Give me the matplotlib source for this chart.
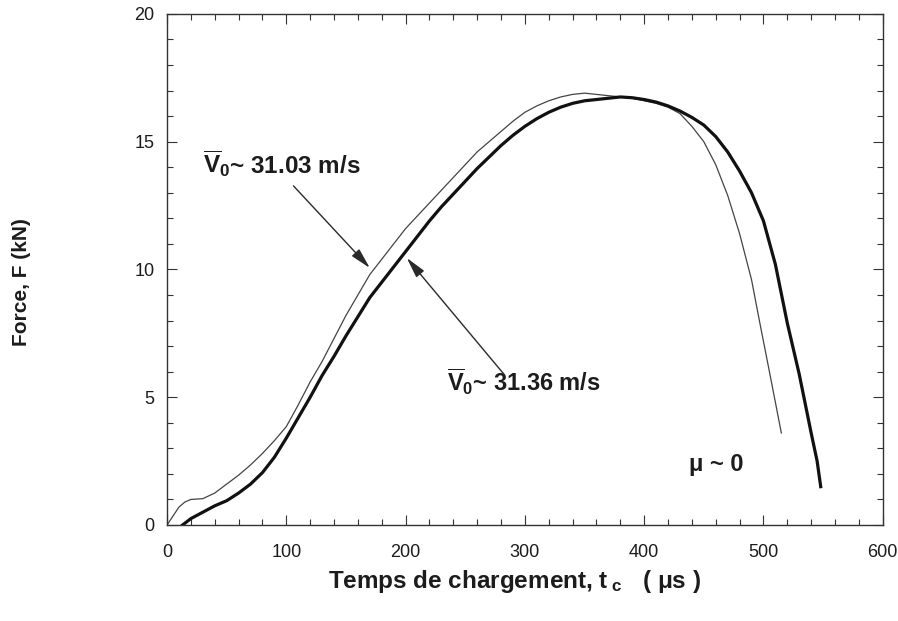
"""Force vs temps de chargement — deux essais (V0 ~ 31.03 et 31.36 m/s), mu ~ 0."""
import matplotlib

matplotlib.use("Agg")
matplotlib.rcParams.update({"font.family": ["Liberation Sans", "DejaVu Sans"],
                            "mathtext.fontset": "custom",
                            "mathtext.rm": "Liberation Sans",
                            "mathtext.it": "Liberation Sans:italic",
                            "mathtext.bf": "Liberation Sans:bold"})
import matplotlib.pyplot as plt
from matplotlib.ticker import MultipleLocator

# essai V0 ~ 31.03 m/s (trait fin)
t_fin = [0, 5, 10, 15, 20, 30, 40, 50, 60, 70, 80, 90, 100, 110, 120, 130,
         140, 150, 160, 170, 180, 190, 200, 210, 220, 230, 240, 250, 260,
         270, 280, 290, 300, 310, 320, 330, 340, 350, 360, 370, 380, 390,
         400, 410, 420, 430, 440, 450, 460, 470, 480, 490, 497, 505, 510, 515]
f_fin = [0.0, 0.35, 0.7, 0.9, 1.0, 1.03, 1.25, 1.6, 1.95, 2.35, 2.8, 3.3,
         3.85, 4.7, 5.6, 6.4, 7.3, 8.2, 9.0, 9.8, 10.4, 11.0, 11.6, 12.1,
         12.6, 13.1, 13.6, 14.1, 14.6, 15.0, 15.4, 15.8, 16.15, 16.4, 16.6,
         16.75, 16.85, 16.9, 16.85, 16.8, 16.75, 16.7, 16.6, 16.5, 16.35,
         16.1, 15.6, 15.0, 14.1, 12.9, 11.4, 9.6, 7.9, 6.0, 4.8, 3.6]

# essai V0 ~ 31.36 m/s (trait épais)
t_epais = [13, 20, 30, 40, 50, 60, 70, 80, 90, 100, 110, 120, 130, 140, 150,
           160, 170, 180, 190, 200, 210, 220, 230, 240, 250, 260, 270, 280,
           290, 300, 310, 320, 330, 340, 350, 360, 370, 380, 390, 400, 410,
           420, 430, 440, 450, 460, 470, 480, 490, 500, 510, 520, 530, 540,
           545, 548]
f_epais = [0.0, 0.25, 0.5, 0.75, 0.95, 1.25, 1.6, 2.05, 2.65, 3.4, 4.2, 5.0,
           5.85, 6.6, 7.4, 8.15, 8.9, 9.5, 10.1, 10.7, 11.3, 11.9, 12.45,
           12.95, 13.45, 13.95, 14.4, 14.85, 15.25, 15.6, 15.9, 16.15, 16.35,
           16.5, 16.6, 16.65, 16.7, 16.75, 16.72, 16.65, 16.55, 16.4, 16.2,
           15.95, 15.65, 15.2, 14.6, 13.85, 13.0, 11.9, 10.2, 7.9, 5.9, 3.6,
           2.5, 1.5]

X_TICKS = [0, 100, 200, 300, 400, 500, 600]
Y_TICKS = [0, 5, 10, 15, 20]

INK = "#1c1c1c"


def main():
    fig = plt.figure(figsize=(8.98, 6.21), dpi=100)
    ax = fig.add_axes([0.186, 0.1546, 0.797, 0.823])

    ax.plot(t_fin, f_fin, color="#444444", lw=0.9)
    ax.plot(t_epais, f_epais, color="#111111", lw=2.3)

    ax.set_xlim(0, 600)
    ax.set_ylim(0, 20)
    ax.set_xticks(X_TICKS)
    ax.set_yticks(Y_TICKS)
    ax.xaxis.set_minor_locator(MultipleLocator(20))
    ax.yaxis.set_minor_locator(MultipleLocator(1))
    ax.tick_params(which="both", direction="in", top=True, right=True,
                   color="#333333", width=0.8, labelcolor=INK)
    ax.tick_params(which="major", length=7)
    ax.tick_params(which="minor", length=4.5)
    ax.tick_params(axis="x", which="major", pad=14, labelsize=13)
    ax.tick_params(axis="y", which="major", pad=9, labelsize=13)
    for s in ax.spines.values():
        s.set_color("#333333")
        s.set_linewidth(1.0)

    ax.set_xlabel(r"Temps de chargement, t$_{\ \mathbf{c}}$   ( μs )",
                  fontsize=17.5, fontweight="bold", color=INK)
    ax.set_ylabel("Force, F (kN)", fontsize=15, fontweight="bold", color=INK)
    ax.xaxis.set_label_coords(0.486, -0.085)
    ax.yaxis.set_label_coords(-0.19, 0.476)

    lab = r"$\overline{\mathbf{V}}_{\mathbf{0}}$~ "
    ax.text(30, 13.78, lab + "31.03 m/s", fontsize=17.5, fontweight="bold",
            color=INK, va="baseline")
    ax.text(235, 5.25, lab + "31.36 m/s", fontsize=17, fontweight="bold",
            color=INK, va="baseline")
    ax.text(438, 2.1, "μ ~ 0", fontsize=17, fontweight="bold",
            color=INK, va="baseline")

    arr = dict(arrowstyle="-|>,head_length=0.9,head_width=0.22",
               color="#2a2a2a", lw=1.0, mutation_scale=14,
               shrinkA=0, shrinkB=0)
    ax.annotate("", xy=(170, 10.06), xytext=(106, 13.27), arrowprops=arr)
    ax.annotate("", xy=(201, 10.45), xytext=(283, 5.87), arrowprops=arr)

    fig.savefig("out.png", dpi=100)


if __name__ == "__main__":
    main()
